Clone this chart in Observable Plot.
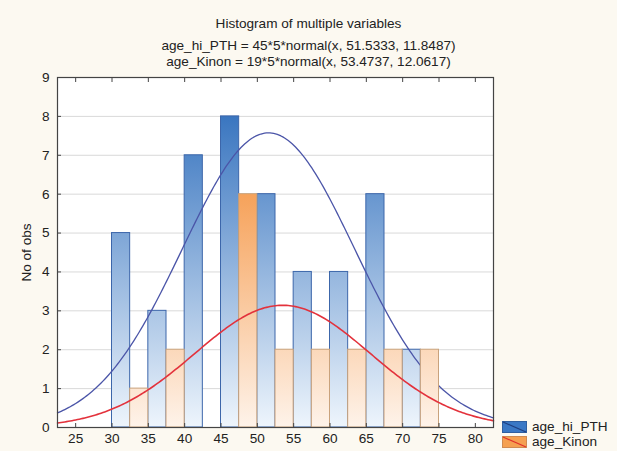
<!DOCTYPE html>
<html><head><meta charset="utf-8">
<script src="https://cdn.jsdelivr.net/npm/d3@7"></script>
<script src="https://cdn.jsdelivr.net/npm/@observablehq/plot@0.6"></script>
<style>
body{margin:0;background:#fcf9f1;font-family:"Liberation Sans",Arial,sans-serif;}
#wrap{position:relative;width:617px;height:451px;overflow:hidden;}
#head{position:relative;height:68px;}
.t{position:absolute;left:0;width:617px;text-align:center;font-size:13.6px;line-height:15px;color:#222;white-space:nowrap;}
#legend{position:absolute;left:502px;top:420px;font-size:13.6px;color:#222;}
.li{display:flex;align-items:center;height:13px;}
.li svg{margin-right:5px;}
</style></head><body>
<div id="wrap">
  <div id="head">
    <div class="t" id="t1" style="top:16px"></div>
    <div class="t" id="t2" style="top:38px"></div>
    <div class="t" id="t3" style="top:54px"></div>
  </div>
  <div id="chart"></div>
  <div id="legend"></div>
</div>
<script>
// ---- data ----
const titleText = "Histogram of multiple variables";
const seriesNames = ["age_hi_PTH", "age_Kinon"];
const binStart = [30, 35, 40, 45, 50, 55, 60, 65, 70];
const countPTH = [5, 3, 7, 8, 6, 4, 4, 6, 2];
const countKinon = [1, 2, 0, 6, 2, 2, 2, 2, 2];
const binWidth = 5;
// fitted normal curves as stated in the chart subtitle: n*5*normal(x, mean, sd)
const fitN = [45, 19];
const fitMean = [51.5333, 53.4737];
const fitSD = [11.8487, 12.0617];
const xTicks = [25, 30, 35, 40, 45, 50, 55, 60, 65, 70, 75, 80];
const yTicks = [0, 1, 2, 3, 4, 5, 6, 7, 8, 9];
const xDomain = [22.5, 82.5];
const yDomain = [0, 9];
const curveColors = ["#4b55a8", "#e3323c"];

// ---- titles ----
document.getElementById("t1").textContent = titleText;
document.getElementById("t2").textContent = `${seriesNames[0]} = ${fitN[0]}*${binWidth}*normal(x, ${fitMean[0]}, ${fitSD[0]})`;
document.getElementById("t3").textContent = `${seriesNames[1]} = ${fitN[1]}*${binWidth}*normal(x, ${fitMean[1]}, ${fitSD[1]})`;

// ---- build tables ----
const half = binWidth / 2;
const barsPTH = binStart.map((b, i) => ({x1: b, x2: b + half, y: countPTH[i]}));
const barsKin = binStart.map((b, i) => ({x1: b + half, x2: b + binWidth, y: countKinon[i]}));
function curve(k) {
  const pts = [];
  const steps = 240;
  for (let i = 0; i <= steps; i++) {
    const x = xDomain[0] + (xDomain[1] - xDomain[0]) * i / steps;
    const z = (x - fitMean[k]) / fitSD[k];
    pts.push({x, y: fitN[k] * binWidth * Math.exp(-0.5 * z * z) / (fitSD[k] * Math.sqrt(2 * Math.PI))});
  }
  return pts;
}
const curvePTH = curve(0), curveKin = curve(1);

const plot = Plot.plot({
  width: 617,
  height: 383,
  marginTop: 9,
  marginBottom: 24,
  marginLeft: 57,
  marginRight: 124,
  style: {fontSize: "13.6px", fontFamily: "'Liberation Sans', Arial, sans-serif", background: "transparent", color: "#222"},
  x: {domain: xDomain},
  y: {domain: yDomain},
  marks: [
    Plot.frame({fill: "white", stroke: "none"}),
    Plot.gridY(yTicks.filter(d => d > 0 && d < 9), {stroke: "#d9d9d9", strokeOpacity: 1}),
    Plot.rectY(barsPTH, {x1: "x1", x2: "x2", y: "y", fill: "url(#gBlue)", stroke: "#3c66aa", strokeWidth: 1}),
    Plot.line(curvePTH, {x: "x", y: "y", stroke: curveColors[0], strokeWidth: 1.3}),
    Plot.rectY(barsKin.filter(d => d.y > 0), {x1: "x1", x2: "x2", y: "y", fill: "url(#gOrange)", stroke: "#c9a27c", strokeWidth: 1}),
    Plot.line(curveKin, {x: "x", y: "y", stroke: curveColors[1], strokeWidth: 1.6}),
    Plot.frame({stroke: "#444", strokeWidth: 1.2}),
    Plot.axisX(xTicks, {tickSize: 0, tickPadding: 6, label: null}),
    Plot.axisX(xTicks, {tickSize: -4, text: null, label: null, stroke: "#444"}),
    Plot.axisX(xTicks, {anchor: "top", tickSize: -4, text: null, label: null, stroke: "#444"}),
    Plot.axisY(yTicks, {tickSize: 0, tickPadding: 8, label: "No of obs", labelAnchor: "center", labelArrow: "none", labelOffset: 36}),
    Plot.axisY(yTicks, {tickSize: -4, text: null, label: null, stroke: "#444"})
  ]
});

// gradients in plot space (colour varies with height like the reference)
const ys = plot.scale("y");
const svg = d3.select(plot.tagName.toLowerCase() === "svg" ? plot : plot.querySelector("svg"));
const defs = svg.insert("defs", ":first-child");
function grad(id, top, c1, c0) {
  const g = defs.append("linearGradient").attr("id", id).attr("gradientUnits", "userSpaceOnUse")
    .attr("x1", 0).attr("x2", 0).attr("y1", ys.apply(top)).attr("y2", ys.apply(0));
  g.append("stop").attr("offset", 0).attr("stop-color", c1);
  g.append("stop").attr("offset", 1).attr("stop-color", c0);
}
grad("gBlue", 8, "#3a76c0", "#eef5fc");
grad("gOrange", 6, "#f6a25a", "#fef3ea");
document.getElementById("chart").appendChild(plot);

// ---- legend ----
const lg = d3.select("#legend");
const sw = [["#3a78c5", "#1f3f80"], ["#f5a050", "#e0302a"]];
seriesNames.forEach((name, i) => {
  const row = lg.append("div").attr("class", "li").style("margin-top", i ? "2px" : "0");
  const s = row.append("svg").attr("width", 25).attr("height", 12);
  s.append("rect").attr("x", 0.5).attr("y", 0.5).attr("width", 24).attr("height", 11).attr("fill", sw[i][0]).attr("stroke", i ? "#d08a50" : "#2f5fa0");
  s.append("line").attr("x1", 1).attr("y1", 1).attr("x2", 24).attr("y2", 11).attr("stroke", sw[i][1]).attr("stroke-width", 1.2);
  row.append("span").text(name);
});
</script>
</body></html>
